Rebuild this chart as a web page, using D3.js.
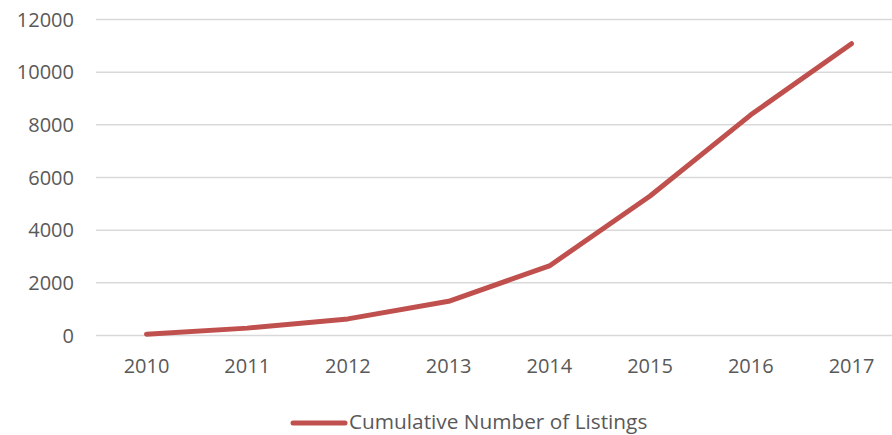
<!DOCTYPE html>
<meta charset="utf-8">
<style>
body { margin: 0; background: #fff; }
text { font-family: "Open Sans", "Liberation Sans", sans-serif; fill: #595959; }
.grid line { stroke: #d9d9d9; stroke-width: 1.5; }
</style>
<head>
  <script src="https://d3js.org/d3.v7.min.js"></script>
</head>
<svg width="892" height="435"></svg>
<script>

var years = ["2010", "2011", "2012", "2013", "2014", "2015", "2016", "2017"];
var listings = [50, 280, 630, 1300, 2640, 5300, 8380, 11080];
var yTicks = [0, 2000, 4000, 6000, 8000, 10000, 12000];
var seriesName = "Cumulative Number of Listings";

var svg = d3.select("svg");

var x = d3.scalePoint().domain(years).range([146.5, 851.5]),
    y = d3.scaleLinear().domain([0, 12000]).range([335.5, 19.5]);

// gridlines
svg.append("g")
    .attr("class", "grid")
  .selectAll("line")
  .data(yTicks)
  .enter().append("line")
    .attr("x1", 96)
    .attr("x2", 892)
    .attr("y1", function(d) { return y(d); })
    .attr("y2", function(d) { return y(d); });

// y labels
svg.append("g")
  .selectAll("text")
  .data(yTicks)
  .enter().append("text")
    .attr("x", 74)
    .attr("y", function(d) { return y(d); })
    .attr("dy", "0.35em")
    .attr("text-anchor", "end")
    .style("font-size", "20px")
    .text(function(d) { return d; });

// x labels
svg.append("g")
  .selectAll("text")
  .data(years)
  .enter().append("text")
    .attr("x", function(d) { return x(d); })
    .attr("y", 366)
    .attr("dy", "0.35em")
    .attr("text-anchor", "middle")
    .style("font-size", "20px")
    .text(function(d) { return d; });

var line = d3.line()
    .x(function(d, i) { return x(years[i]); })
    .y(function(d) { return y(d); });

svg.append("path")
    .datum(listings)
    .attr("fill", "none")
    .attr("stroke", "#c0504d")
    .attr("stroke-width", 5)
    .attr("stroke-linecap", "round")
    .attr("stroke-linejoin", "round")
    .attr("d", line);

// legend
var lg = svg.append("g");
lg.append("line")
    .attr("x1", 293).attr("x2", 345)
    .attr("y1", 423).attr("y2", 423)
    .attr("stroke", "#c0504d")
    .attr("stroke-width", 5)
    .attr("stroke-linecap", "round");
lg.append("text")
    .attr("x", 349)
    .attr("y", 421.5)
    .attr("dy", "0.35em")
    .style("font-size", "20.8px")
    .text(seriesName);

</script>
